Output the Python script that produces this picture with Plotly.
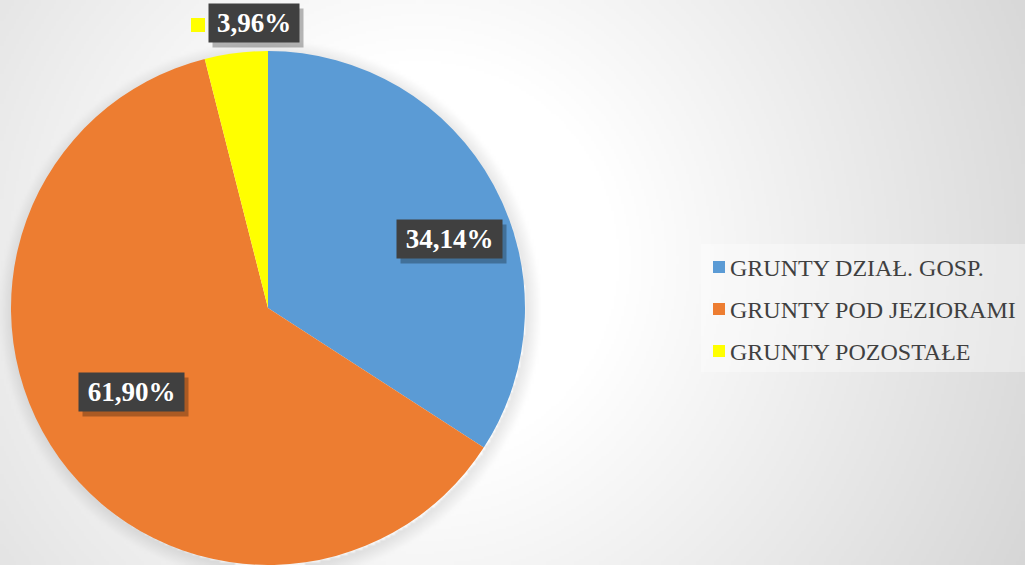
import base64
import zlib
import struct
import numpy as np
import plotly.graph_objects as go

# ---------------- data ----------------
categories = ["GRUNTY DZIAŁ. GOSP.", "GRUNTY POD JEZIORAMI", "GRUNTY POZOSTAŁE"]
values = [34.14, 61.90, 3.96]
colors = ["#5B9BD5", "#ED7D31", "#FFFF00"]

W, H = 1025, 565

# ---------------- background gradient image (style only) ----------------
def make_bg():
    w, h = 410, 226
    sx, sy = W / w, H / h
    xs = (np.arange(w) + 0.5) * sx
    ys = (np.arange(h) + 0.5) * sy
    X, Y = np.meshgrid(xs, ys)
    d = np.hypot(X - 420, Y - 260)
    g = 255 - 0.085 * np.clip(d - 200, 0, None)
    # soft shadow around the pie
    R = 257
    dp = np.hypot(X - 270, Y - 311)
    ring = np.clip(1 - (dp - R) / 14.0, 0, 1) * (dp >= R - 2)
    g = g - 22 * ring
    g = np.clip(g, 0, 255).astype(np.uint8)
    raw = b"".join(b"\x00" + g[i].tobytes() for i in range(h))
    def chunk(t, data):
        c = struct.pack(">I", len(data)) + t + data
        return c + struct.pack(">I", zlib.crc32(t + data) & 0xFFFFFFFF)
    png = b"\x89PNG\r\n\x1a\n"
    png += chunk(b"IHDR", struct.pack(">IIBBBBB", w, h, 8, 0, 0, 0, 0))
    png += chunk(b"IDAT", zlib.compress(raw, 9))
    png += chunk(b"IEND", b"")
    return "data:image/png;base64," + base64.b64encode(png).decode()

fig = go.Figure()
fig.add_trace(go.Pie(
    labels=categories,
    values=values,
    sort=False,
    direction="clockwise",
    rotation=0,
    marker=dict(colors=colors, line=dict(width=0)),
    textinfo="none",
    hoverinfo="label+percent",
    showlegend=False,
    domain=dict(x=[11 / W, 525 / W], y=[0.0, 514 / H]),
))

def px(x):
    return x / W

def py(y):
    return 1 - y / H

# data labels (text from values)
label_pos = [(449, 239, 105), (131, 392, 105), (254, 23, 90)]
ann = []
shapes = []
for v, (cx, cy, bw) in zip(values, label_pos):
    txt = f"{v:.2f}%".replace(".", ",")
    bh = 38
    # shadow
    ann.append(dict(x=px(cx + 4), y=py(cy + 5), xref="paper", yref="paper",
                    xanchor="center", yanchor="middle",
                    text=" ", showarrow=False, width=bw, height=bh,
                    bgcolor="rgba(0,0,0,0.28)", borderpad=0,
                    font=dict(size=10)))
    ann.append(dict(x=px(cx), y=py(cy), xref="paper", yref="paper",
                    xanchor="center", yanchor="middle",
                    text=f"<b>{txt}</b>", showarrow=False, width=bw, height=bh,
                    bgcolor="#404040", borderpad=0,
                    font=dict(family="Liberation Serif", size=27, color="white")))

# legend key inside the small label
shapes.append(dict(type="rect", xref="paper", yref="paper",
                   x0=px(191), x1=px(205), y0=py(32), y1=py(18),
                   fillcolor=colors[2], line=dict(width=0)))

# manual legend
shapes.append(dict(type="rect", xref="paper", yref="paper",
                   x0=px(701), x1=px(1025), y0=py(372), y1=py(244),
                   fillcolor="rgba(255,255,255,0.35)", line=dict(width=0), layer="below"))
leg_y = [267, 309, 351]
for cat, col, yy in zip(categories, colors, leg_y):
    shapes.append(dict(type="rect", xref="paper", yref="paper",
                       x0=px(713), x1=px(725), y0=py(yy + 6), y1=py(yy - 6),
                       fillcolor=col, line=dict(width=0)))
    ann.append(dict(x=px(728), y=py(yy + 1), xref="paper", yref="paper",
                    text=cat, showarrow=False, xanchor="left", yanchor="middle",
                    font=dict(family="Liberation Serif", size=24, color="#404040")))

fig.update_layout(
    width=W, height=H,
    margin=dict(l=0, r=0, t=0, b=0),
    paper_bgcolor="#e6e6e6",
    plot_bgcolor="rgba(0,0,0,0)",
    annotations=ann,
    shapes=shapes,
    images=[dict(source=make_bg(), xref="paper", yref="paper", x=0, y=1,
                 sizex=1, sizey=1, xanchor="left", yanchor="top",
                 sizing="stretch", layer="below")],
)

fig.write_html("out.html", config={"displayModeBar": False},
               post_script="document.body.style.margin='0';document.body.style.overflow='hidden';")
